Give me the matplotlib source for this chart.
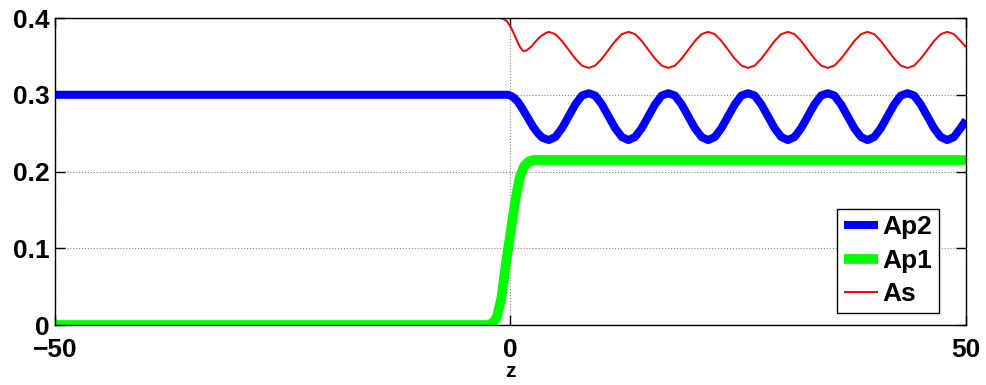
import matplotlib
matplotlib.use("Agg")
import matplotlib.pyplot as plt

plt.rcParams['font.family'] = ['Liberation Sans', 'DejaVu Sans']
plt.rcParams['font.weight'] = 'bold'

# oscillating tail shared by As and Ap2 (z >= 4.2)
z_tail = [4.20, 4.93, 5.66, 6.39, 7.12, 7.85, 8.58, 9.30, 10.03, 10.76, 11.49, 12.22,
          12.95, 13.68, 14.41, 15.14, 15.87, 16.60, 17.33, 18.05, 18.78, 19.51, 20.24, 20.97,
          21.70, 22.43, 23.16, 23.89, 24.62, 25.35, 26.08, 26.80, 27.53, 28.26, 28.99, 29.72,
          30.45, 31.18, 31.91, 32.64, 33.37, 34.10, 34.83, 35.55, 36.28, 37.01, 37.74, 38.47,
          39.20, 39.93, 40.66, 41.39, 42.12, 42.85, 43.58, 44.30, 45.03, 45.76, 46.49, 47.22,
          47.95, 48.68, 49.41, 50.00]

as_tail = [0.382, 0.379, 0.370, 0.3585, 0.347, 0.338, 0.335, 0.338, 0.347, 0.3585, 0.370, 0.379,
           0.382, 0.379, 0.370, 0.3585, 0.347, 0.338, 0.335, 0.338, 0.347, 0.3585, 0.370, 0.379,
           0.382, 0.379, 0.370, 0.3585, 0.347, 0.338, 0.335, 0.338, 0.347, 0.3585, 0.370, 0.379,
           0.382, 0.379, 0.370, 0.3585, 0.347, 0.338, 0.335, 0.338, 0.347, 0.3585, 0.370, 0.379,
           0.382, 0.379, 0.370, 0.3585, 0.347, 0.338, 0.335, 0.338, 0.347, 0.3585, 0.370, 0.379,
           0.382, 0.379, 0.370, 0.362]

ap2_tail = [0.241, 0.245, 0.2565, 0.272, 0.2875, 0.299, 0.302, 0.299, 0.2875, 0.272, 0.2565, 0.245,
            0.241, 0.245, 0.2565, 0.272, 0.2875, 0.299, 0.302, 0.299, 0.2875, 0.272, 0.2565, 0.245,
            0.241, 0.245, 0.2565, 0.272, 0.2875, 0.299, 0.302, 0.299, 0.2875, 0.272, 0.2565, 0.245,
            0.241, 0.245, 0.2565, 0.272, 0.2875, 0.299, 0.302, 0.299, 0.2875, 0.272, 0.2565, 0.245,
            0.241, 0.245, 0.2565, 0.272, 0.2875, 0.299, 0.302, 0.299, 0.2875, 0.272, 0.2565, 0.245,
            0.241, 0.245, 0.2565, 0.267]

# As (signal)
z_as = [-50, -1.2, -0.8, -0.4, 0.0, 0.4, 0.8, 1.1, 1.4, 1.8, 2.3, 2.8, 3.3, 3.8] + z_tail
as_vals = [0.4, 0.4, 0.399, 0.396, 0.389, 0.379, 0.368, 0.361, 0.357, 0.358, 0.363, 0.370,
           0.376, 0.380] + as_tail

# Ap2 (pump 2)
z_ap2 = [-50, -0.3, 0.0, 0.4, 0.8, 1.2, 1.6, 2.0, 2.5, 3.0, 3.5] + z_tail
ap2_vals = [0.3, 0.3, 0.299, 0.296, 0.291, 0.284, 0.276, 0.268, 0.258, 0.250, 0.244] + ap2_tail

# Ap1 (pump 1)
z_ap1 = [-50, -2.5, -2.0, -1.5, -1.0, -0.5, 0.0, 0.5, 1.0, 1.5, 2.0, 2.5, 3.0, 50]
ap1_vals = [0, 0, 0.002, 0.010, 0.035, 0.080, 0.120, 0.160, 0.192, 0.207, 0.213, 0.215, 0.215, 0.215]

fig = plt.figure(figsize=(9.87, 3.85), dpi=100)
ax = fig.add_axes([0.0557, 0.1558, 0.923, 0.7974])

style = dict(solid_joinstyle='round', solid_capstyle='butt')
ax.plot(z_ap2, ap2_vals, color='#0000ff', lw=5.8, label='Ap2', **style)
ax.plot(z_ap1, ap1_vals, color='#00ff00', lw=7.0, label='Ap1', **style)
ax.plot(z_as, as_vals, color='#ff0000', lw=1.4, label='As', **style)

ax.set_xlim(-50, 50)
ax.set_ylim(0, 0.4)
ax.set_xticks([-50, 0, 50])
ax.set_xticklabels(['\u221250', '0', '50'])
ax.set_yticks([0, 0.1, 0.2, 0.3, 0.4])
ax.set_yticklabels(['0', '0.1', '0.2', '0.3', '0.4'])
ax.grid(True, linestyle=':', color='#888888', lw=0.8)
ax.tick_params(direction='in', length=7, width=1, top=True, right=True,
               labelsize=19)
ax.tick_params(axis='x', pad=9)
ax.tick_params(axis='y', pad=4)
for s in ax.spines.values():
    s.set_linewidth(1.0)

ax.set_xlabel('z', fontsize=15, fontweight='bold', labelpad=0)

leg = ax.legend(loc='lower right', bbox_to_anchor=(0.970, 0.039), borderaxespad=0,
                fontsize=19, handlelength=1.3, handletextpad=0.15, labelspacing=0.36,
                borderpad=0.25, fancybox=False, framealpha=1)
leg.get_frame().set_edgecolor('black')
leg.get_frame().set_linewidth(1.0)

fig.savefig('out.png', dpi=100)
